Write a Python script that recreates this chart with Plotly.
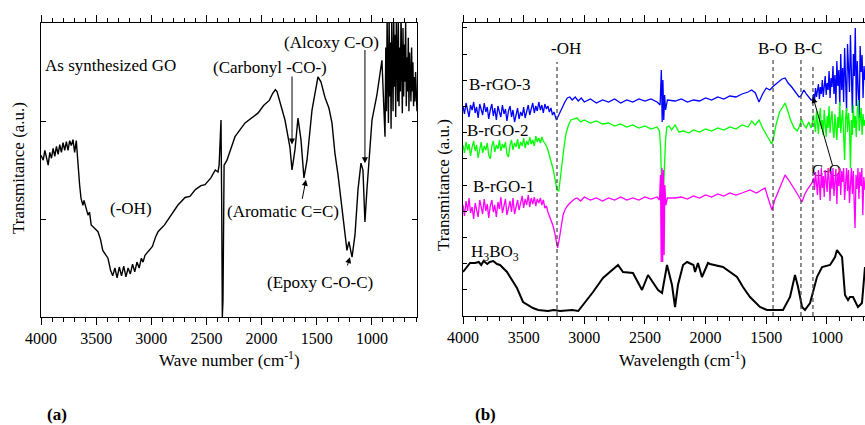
import plotly.graph_objects as go

# ---------------- (a) As-synthesized GO : wavenumber (cm-1) / transmittance (a.u.)
GO_WN = [4000, 3980, 3965, 3950, 3935, 3920, 3905, 3890, 3875, 3860, 3845, 3830, 3815, 3800,
         3785, 3770, 3755, 3740, 3725, 3710, 3695, 3680, 3665, 3650, 3637, 3620, 3610, 3574,
         3560, 3545, 3483, 3460, 3440, 3393, 3370, 3350, 3330, 3310, 3290, 3270, 3250, 3230,
         3210, 3190, 3170, 3150, 3130, 3110, 3090, 3075, 3057, 2990, 2960, 2939, 2880, 2821,
         2760, 2694, 2650, 2600, 2550, 2513, 2460, 2420, 2395, 2385, 2375, 2368, 2362, 2356,
         2350, 2345, 2340, 2314, 2241, 2150, 2100, 2033, 1980, 1930, 1900, 1875, 1860, 1788,
         1743, 1724, 1697, 1670, 1643, 1616, 1588, 1543, 1489, 1462, 1425, 1389, 1362, 1335,
         1307, 1280, 1244, 1226, 1208, 1180, 1153, 1126, 1099, 1081, 1063, 1045, 999, 954,
         909, 881, 874, 868, 862, 856, 850, 844, 838, 832, 826, 820, 814, 808, 802, 796, 790,
         784, 778, 772, 766, 760, 754, 748, 742, 736, 730, 724, 718, 712, 706, 700, 694, 688,
         682, 676, 670, 664, 658, 652, 646, 640, 634, 628, 622, 616, 610, 604, 598, 591]
GO_T = [16.5, 16.0, 17.0, 16.2, 15.5, 16.8, 16.2, 17.2, 16.4, 17.4, 16.6, 17.6, 16.8, 17.8,
        17.0, 17.9, 17.0, 18.0, 17.5, 18.1, 16.8, 18.0, 15.5, 13.5, 12.1, 11.4, 11.9, 10.4,
        10.7, 9.4, 8.7, 7.9, 6.8, 6.0, 4.8, 4.2, 5.0, 4.0, 5.1, 4.2, 5.2, 4.1,
        5.0, 4.4, 5.4, 4.6, 5.6, 5.0, 6.0, 5.6, 6.3, 7.2, 8.2, 8.7, 9.4, 10.4,
        11.4, 12.2, 12.3, 13.0, 13.4, 13.5, 14.2, 15.0, 14.8, 15.5, 19.1, 20.1, 11.9, 0.0,
        1.7, 11.9, 15.5, 16.0, 18.4, 19.8, 20.2, 20.8, 21.6, 22.1, 22.8, 23.2, 23.0, 20.1,
        17.3, 15.0, 17.1, 20.3, 18.1, 14.2, 16.0, 21.1, 24.5, 24.0, 22.4, 21.3, 19.8, 16.7,
        14.5, 11.9, 7.9, 6.8, 7.7, 6.1, 8.4, 13.0, 15.7, 15.0, 9.7, 13.0, 20.1, 22.7,
        26.2, 18.4, 27.5, 21.0, 30.5, 24.0, 19.8, 31.0, 22.5, 28.0, 19.2, 30.5, 25.5, 21.0,
        31.0, 23.5, 28.8, 20.4, 31.0, 26.0, 22.0, 30.0, 21.5, 27.5, 23.0, 31.0, 24.5, 20.8,
        29.5, 22.5, 27.8, 24.0, 30.0, 21.5, 26.5, 23.0, 28.5, 21.0, 27.0, 24.5, 22.0, 27.5,
        23.0, 26.0, 21.5, 24.5, 22.0, 25.0, 21.5, 21.0]

# ---------------- (b) boron-doped rGO samples and boric acid
RGO3_WN = [4000, 3988, 3975, 3962, 3950, 3938, 3925, 3912, 3900, 3888, 3875, 3862, 3850, 3838,
           3825, 3812, 3800, 3788, 3775, 3762, 3750, 3738, 3725, 3712, 3700, 3688, 3675, 3662,
           3650, 3638, 3625, 3612, 3600, 3588, 3575, 3562, 3550, 3538, 3525, 3512, 3500, 3488,
           3475, 3462, 3450, 3438, 3425, 3412, 3400, 3388, 3375, 3362, 3350, 3338, 3325, 3312,
           3300, 3288, 3275, 3262,
           3250, 3230, 3215, 3200, 3180, 3160, 3140, 3120, 3100, 3075, 3050, 3025,
           3000, 2950, 2900, 2850, 2800, 2750, 2700, 2650, 2600, 2550, 2500, 2450, 2400, 2375,
           2365, 2358, 2352, 2345, 2338, 2330, 2315, 2250, 2200, 2150, 2100, 2050, 2000, 1950,
           1900, 1850, 1800, 1750, 1700, 1650, 1620, 1590, 1560, 1530, 1500, 1470, 1440, 1400,
           1370, 1345, 1320, 1290, 1260, 1230, 1215, 1190, 1170, 1150, 1130, 1118,
           1110, 1102, 1094, 1086, 1078, 1070, 1062, 1054, 1046, 1038, 1030, 1022, 1014, 1006,
           998, 990, 982, 974, 966, 958, 950, 942, 934, 926, 918, 910, 902, 894, 886, 878, 870,
           862, 854, 846, 838, 830, 822, 814, 806, 798, 790, 782, 774, 766, 758, 750, 742, 734,
           726, 718, 710, 702, 694, 686]
RGO3_T = [210, 202, 213, 205, 199, 211, 206, 214, 203, 209, 198, 212, 207, 201,
          213, 204, 209, 197, 206, 212, 200, 208, 196, 210, 204, 199, 211, 202,
          207, 195, 205, 210, 199, 206, 194, 203, 208, 197, 204, 200, 209, 198,
          206, 211, 201, 208, 213, 203, 210, 205, 214, 206, 211, 203, 212, 207,
          210, 204, 208, 201,
          204, 196, 200, 204, 210, 214, 218, 219, 216, 219, 215, 218,
          214, 217, 213, 216, 214, 217, 213, 216, 214, 217, 215, 217, 214, 211,
          246, 194, 236, 196, 221, 206, 216, 215, 217, 214, 216, 215, 218, 216,
          219, 217, 220, 219, 222, 224, 226, 223, 214, 222, 228, 226, 230, 234,
          237, 238, 233, 229, 224, 219, 220, 226, 222, 219, 216, 216,
          222, 216, 228, 219, 225, 232, 217, 229, 222, 236, 219, 231, 240, 221,
          233, 226, 245, 218, 238, 229, 250, 222, 241, 212, 255, 230, 246, 210, 262, 226, 248,
          214, 268, 236, 205, 272, 241, 224, 281, 219, 203, 262, 240, 288, 210, 255, 232, 198,
          270, 244, 261, 218, 250, 236]

RGO2_WN = [4000, 3988, 3975, 3962, 3950, 3938, 3925, 3912, 3900, 3888, 3875, 3862, 3850, 3838,
           3825, 3812, 3800, 3788, 3775, 3762, 3750, 3738, 3725, 3712, 3700, 3688, 3675, 3662,
           3650, 3638, 3625, 3612, 3600, 3588, 3575, 3562, 3550, 3538, 3525, 3512, 3500, 3488,
           3475, 3462, 3450, 3438, 3425, 3412, 3400, 3388, 3375, 3362, 3350, 3338, 3325, 3312,
           3300, 3275, 3255, 3240, 3225, 3210, 3195, 3180, 3165, 3150, 3130, 3110, 3090, 3060,
           3030, 3000, 2950, 2900, 2850, 2800, 2750, 2700, 2650, 2600, 2550, 2500, 2450, 2400,
           2380, 2370, 2362, 2355, 2348, 2340, 2330, 2320, 2300, 2280, 2252, 2220, 2180, 2140,
           2100, 2050, 2000, 1950, 1900, 1850, 1800, 1750, 1700, 1650, 1620, 1590, 1560, 1530,
           1500, 1475, 1455, 1440, 1420, 1390, 1360, 1345, 1320, 1300, 1270, 1245, 1225, 1210,
           1190, 1170, 1150, 1130, 1118,
           1110, 1102, 1094, 1086, 1078, 1070, 1062, 1054, 1046, 1038, 1030, 1022, 1014, 1006,
           998, 990, 982, 974, 966, 958, 950, 942, 934, 926, 918, 910, 902, 894, 886, 878, 870,
           862, 854, 846, 838, 830, 822, 814, 806, 798, 790, 782, 774, 766, 758, 750, 742, 734,
           726, 718, 710, 702, 694, 686]
RGO2_T = [171, 163, 174, 166, 172, 160, 169, 175, 165, 171, 158, 168, 174, 163,
          170, 166, 173, 161, 157, 170, 175, 164, 171, 167, 176, 165, 172, 168,
          174, 162, 159, 171, 176, 166, 173, 169, 177, 167, 174, 170, 178, 168,
          175, 171, 179, 172, 176, 170, 180, 174, 178, 173, 179, 175, 173, 170,
          166, 156, 146, 136, 126, 125, 138, 156, 171, 183, 191, 196, 197, 198,
          194, 196, 193, 195, 192, 193, 190, 192, 189, 191, 188, 190, 187, 189,
          185, 166, 126, 144, 124, 151, 176, 189, 190, 186, 191, 184, 185, 183,
          186, 184, 187, 185, 188, 186, 189, 187, 191, 189, 195, 191, 196, 188,
          181, 176, 172, 178, 191, 204, 211, 213, 204, 196, 188, 185, 190, 197,
          191, 188, 194, 188, 195,
          201, 190, 184, 205, 193, 182, 199, 208, 187, 196, 181, 206, 192, 179,
          200, 188, 210, 183, 197, 205, 186, 178, 202, 191, 176, 199, 188, 214, 183, 196, 206,
          180, 156, 198, 208, 184, 203, 190, 148, 196, 181, 211, 188, 200, 179, 205, 216, 185,
          198, 208, 181, 202, 190, 196]

RGO1_WN = [4000, 3988, 3975, 3962, 3950, 3938, 3925, 3912, 3900, 3888, 3875, 3862, 3850, 3838,
           3825, 3812, 3800, 3788, 3775, 3762, 3750, 3738, 3725, 3712, 3700, 3688, 3675, 3662,
           3650, 3638, 3625, 3612, 3600, 3588, 3575, 3562, 3550, 3538, 3525, 3512, 3500, 3488,
           3475, 3462, 3450, 3438, 3425, 3412, 3400, 3388, 3375, 3362, 3350, 3338, 3325, 3312,
           3300, 3280, 3260, 3245, 3232, 3220, 3205, 3190, 3175, 3160, 3140, 3110, 3080, 3060,
           3030, 3000, 2950, 2900, 2850, 2800, 2750, 2700, 2650, 2600, 2550, 2500, 2450, 2400,
           2380, 2372, 2366, 2360, 2354, 2348, 2342, 2336, 2328, 2315, 2250, 2200, 2150, 2100,
           2050, 2000, 1950, 1900, 1850, 1800, 1750, 1700, 1634, 1580, 1552, 1510, 1480, 1453,
           1430, 1403, 1370, 1345, 1315, 1288, 1260, 1238, 1205, 1185, 1164, 1140, 1123,
           1110, 1102, 1094, 1086, 1078, 1070, 1062, 1054, 1046, 1038, 1030, 1022, 1014, 1006,
           998, 990, 982, 974, 966, 958, 950, 942, 934, 926, 918, 910, 902, 894, 886, 878, 870,
           862, 854, 846, 838, 830, 822, 814, 806, 798, 790, 782, 774, 768, 760, 752, 744, 736,
           728, 720, 712, 704, 696, 686]
RGO1_T = [111, 100, 115, 105, 118, 103, 109, 97, 113, 106, 99, 116, 108, 102,
          117, 105, 112, 98, 110, 116, 104, 111, 99, 114, 107, 119, 103, 112,
          117, 101, 109, 115, 104, 118, 102, 110, 116, 106, 113, 120, 108, 117,
          111, 121, 109, 118, 112, 119, 110, 117, 113, 118, 111, 116, 108, 110,
          104, 98, 91, 84, 76, 68, 78, 91, 101, 106, 110, 114, 117, 118,
          115, 119, 116, 118, 115, 118, 116, 119, 116, 118, 116, 119, 117, 119,
          116, 141, 54, 148, 54, 146, 61, 131, 111, 118, 118, 119, 117, 120,
          118, 121, 119, 122, 120, 123, 121, 123, 126, 123, 125, 128, 116, 106,
          116, 124, 134, 141, 136, 131, 126, 121, 114, 121, 126, 130, 133,
          138, 126, 144, 130, 121, 146, 135, 116, 148, 128, 140, 119, 146, 133,
          124, 148, 137, 115, 145, 127, 148, 120, 139, 147, 112, 143, 130, 148, 121, 145, 134,
          148, 116, 142, 148, 125, 146, 113, 140, 148, 122, 145, 109, 88, 141, 127, 148, 117,
          144, 130, 148, 101, 139, 126]

H3BO3_WN = [4000, 3942, 3900, 3870, 3850, 3830, 3800, 3780, 3750, 3720, 3695, 3637, 3555, 3505,
            3423, 3380, 3300, 3250, 3200, 3100, 3050, 3011, 2928, 2846, 2772, 2722, 2681, 2599,
            2524, 2475, 2392, 2359, 2318, 2277, 2252, 2228, 2186, 2153, 2100, 2087, 2063, 2030,
            1980, 1964, 1857, 1741, 1692, 1634, 1552, 1494, 1362, 1304, 1263, 1238, 1205, 1181,
            1139, 1082, 1040, 974, 933, 917, 875, 851, 826, 810, 785, 744, 711, 686]
H3BO3_T = [44, 53, 53, 54, 51, 55, 52, 54, 55, 52, 51, 44, 28, 14,
           8, 6, 5, 6, 5, 6, 5, 11, 24, 38, 46, 51, 44, 43,
           26, 41, 26, 23, 51, 31, 9, 31, 51, 54, 51, 44, 53, 39,
           53, 52, 49, 39, 29, 19, 9, 6, 6, 19, 41, 29, 9, 6,
           13, 39, 49, 51, 59, 66, 59, 21, 16, 19, 19, 9, 13, 49]

# band assignments marked with dashed guides in panel (b)
BAND_POS = [3225, 1444, 1214, 1115]
BAND_TOP = [254, 259, 259, 251]

W, H = 865, 425
FONT = "Liberation Serif, Times New Roman, serif"
FS = 17


def px(x):
    return x / W


def py(y):
    return 1 - y / H


fig = go.Figure()
fig.add_trace(go.Scatter(x=GO_WN, y=GO_T, mode="lines",
                         line=dict(color="black", width=1.4), xaxis="x", yaxis="y"))
fig.add_trace(go.Scatter(x=H3BO3_WN, y=H3BO3_T, mode="lines",
                         line=dict(color="black", width=2), xaxis="x2", yaxis="y2"))
# C-O label sits beneath the noisy traces
fig.add_trace(go.Scatter(x=[1005], y=[144], mode="text", text=["C-O"],
                         textfont=dict(family=FONT, size=FS, color="black"),
                         xaxis="x2", yaxis="y2"))
fig.add_trace(go.Scatter(x=RGO3_WN, y=RGO3_T, mode="lines",
                         line=dict(color="#0000ff", width=1.3), xaxis="x2", yaxis="y2"))
fig.add_trace(go.Scatter(x=RGO2_WN, y=RGO2_T, mode="lines",
                         line=dict(color="#00ff00", width=1.3), xaxis="x2", yaxis="y2"))
fig.add_trace(go.Scatter(x=RGO1_WN, y=RGO1_T, mode="lines",
                         line=dict(color="#ff00ff", width=1.3), xaxis="x2", yaxis="y2"))

for xv, top in zip(BAND_POS, BAND_TOP):
    fig.add_shape(type="line", xref="x2", yref="y2", x0=xv, x1=xv, y0=0, y1=top,
                  line=dict(color="#444444", width=1.2, dash="4px,3px"))

xcommon = dict(ticks="outside", ticklen=7, tickwidth=1.2, tickcolor="black",
               dtick=500, tick0=0, automargin=False,
               minor=dict(dtick=100, ticklen=4, ticks="outside", tickcolor="black", tickwidth=1),
               showline=True, linecolor="black", linewidth=1.3, mirror="ticks",
               showgrid=False, zeroline=False,
               tickfont=dict(family=FONT, size=16, color="black"))

fig.update_layout(
    width=W, height=H, margin=dict(l=0, r=0, t=0, b=0, pad=0, autoexpand=False),
    paper_bgcolor="white", plot_bgcolor="white", showlegend=False,
    xaxis=dict(domain=[px(41), px(417)], range=[4000, 591], anchor="y", **xcommon),
    yaxis=dict(domain=[py(317), py(23)], range=[0, 30], dtick=10, anchor="x", automargin=False,
               ticks="inside", ticklen=5, tickcolor="black", showticklabels=False,
               showline=True, linecolor="black", linewidth=1.3, mirror="ticks",
               showgrid=False, zeroline=False),
    xaxis2=dict(domain=[px(463), 1.0], range=[4000, 686], anchor="y2", **xcommon),
    yaxis2=dict(domain=[py(316), py(23)], range=[0, 293], dtick=26.2, tick0=0, anchor="x2",
                automargin=False,
                ticks="inside", ticklen=4, tickcolor="black", showticklabels=False,
                showline=True, linecolor="black", linewidth=1.3, mirror=False,
                showgrid=False, zeroline=False),
)

tf = dict(family=FONT, size=FS, color="black")
notes = [
    ("As synthesized GO", 110, 65, "center"),
    ("(Carbonyl -CO-)", 270, 67, "center"),
    ("(Alcoxy C-O)", 331, 42, "center"),
    ("(-OH)", 131, 209, "center"),
    ("(Aromatic C=C)", 283, 211, "center"),
    ("(Epoxy C-O-C)", 320, 282, "center"),
    ("-OH", 566, 49, "center"),
    ("B-O", 772, 49, "center"),
    ("B-C", 808, 49, "center"),
    ("B-rGO-3", 467, 85, "left"),
    ("B-rGO-2", 465, 130, "left"),
    ("B-rGO-1", 471, 187, "left"),
    ("H<sub>3</sub>BO<sub>3</sub>", 469, 253, "left"),
]
for txt, x, y, anc in notes:
    fig.add_annotation(text=txt, x=px(x), y=py(y), xref="paper", yref="paper",
                       xanchor=anc, yanchor="middle", showarrow=False, font=tf)

# axis titles under the wavenumber scales
for txt, x in (("Wave number (cm<sup>-1</sup>)", 230), ("Wavelength (cm<sup>-1</sup>)", 682)):
    fig.add_annotation(text=txt, x=px(x), y=py(346), xref="paper", yref="paper",
                       xanchor="center", yanchor="top", showarrow=False, font=tf)

for lab, x in (("(a)", 57), ("(b)", 485)):
    fig.add_annotation(text="<b>%s</b>" % lab, x=px(x), y=py(414), xref="paper", yref="paper",
                       xanchor="center", yanchor="middle", showarrow=False, font=tf)

for x, y in ((18, 168), (443, 185)):
    fig.add_annotation(text="Transmitance (a.u.)", x=px(x), y=py(y), xref="paper", yref="paper",
                       xanchor="center", yanchor="middle",
                       textangle=-90, showarrow=False, font=tf)

# arrows pointing at assigned bands: (head x, head y, tail x, tail y, axis)
arrows = [
    (1724, 17.6, 1724, 24.7, "x", "y"),
    (1063, 15.7, 1063, 27.4, "x", "y"),
    (1598, 14.0, 1634, 11.9, "x", "y"),
    (1199, 6.1, 1226, 5.1, "x", "y"),
    (1115, 219, 950, 149, "x2", "y2"),
]
for hx, hy, tx, ty, xr, yr in arrows:
    fig.add_annotation(x=hx, y=hy, ax=tx, ay=ty, xref=xr, yref=yr, axref=xr, ayref=yr,
                       text="", showarrow=True, arrowhead=2, arrowsize=1.2, arrowwidth=1,
                       arrowcolor="black")

fig.write_html("out.html")
